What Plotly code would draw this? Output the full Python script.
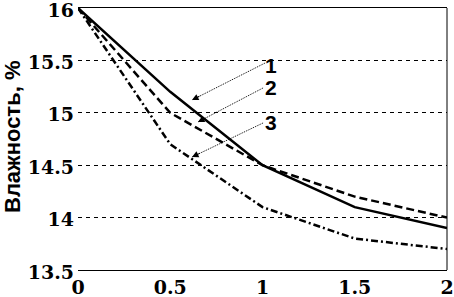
import plotly.graph_objects as go

# Data
x_vals = [0, 0.5, 1, 1.5, 2]
curve1 = [16.0, 15.2, 14.5, 14.1, 13.9]
curve2 = [16.0, 15.0, 14.5, 14.2, 14.0]
curve3 = [16.0, 14.7, 14.1, 13.8, 13.7]

x_ticks = [0, 0.5, 1, 1.5, 2]
x_tick_labels = ["0", "0.5", "1", "1.5", "2"]
y_ticks = [13.5, 14, 14.5, 15, 15.5, 16]
y_tick_labels = ["13.5", "14", "14.5", "15", "15.5", "16"]

y_title = "Влажность, %"
curve_labels = ["1", "2", "3"]
label_pos = [(1.046, 15.45), (1.046, 15.24), (1.046, 14.91)]
arrow_tail = [(1.014, 15.475), (1.003, 15.237), (1.003, 14.903)]
arrow_head = [(0.618, 15.122), (0.650, 14.912), (0.618, 14.578)]

SERIF = "DejaVu Serif"
SANS = "Liberation Sans, Arial, sans-serif"

fig = go.Figure()
styles = [
    dict(color="black", width=2.5, dash="solid"),
    dict(color="black", width=2.5, dash="8px,4px"),
    dict(color="black", width=2.5, dash="7px,3px,2px,3px"),
]
for ys, st in zip([curve1, curve2, curve3], styles):
    fig.add_trace(go.Scatter(x=x_vals, y=ys, mode="lines", line=st,
                             showlegend=False, hoverinfo="skip"))

shapes = [
    dict(type="line", xref="x domain", yref="y domain", x0=1, x1=1, y0=0, y1=1,
         line=dict(color="black", width=1)),
]
annotations = []
for (tx, ty), (hx, hy), lab, (lx, ly) in zip(arrow_tail, arrow_head, curve_labels, label_pos):
    shapes.append(dict(type="line", xref="x", yref="y", x0=tx, y0=ty, x1=hx, y1=hy,
                       line=dict(color="black", width=1, dash="1px,1px")))
    dx = (tx - hx) * 184.5
    dy = -(ty - hy) * 104.8
    L = (dx ** 2 + dy ** 2) ** 0.5
    annotations.append(dict(x=hx, y=hy, xref="x", yref="y", text="",
                            showarrow=True, arrowhead=2, arrowsize=1.3, arrowwidth=1,
                            arrowcolor="black",
                            ax=dx / L * 10, ay=dy / L * 10))
    annotations.append(dict(x=lx, y=ly, xref="x", yref="y", text=lab,
                            showarrow=False, xanchor="center", yanchor="middle",
                            font=dict(family=SANS, size=21, color="black", weight="bold")))

annotations.append(dict(x=0, y=0.5, xref="paper", yref="paper", text=y_title,
                        textangle=-90, showarrow=False, xanchor="center", yanchor="middle",
                        xshift=-66, yshift=2,
                        font=dict(family=SANS, size=22, color="black", weight="bold")))

fig.update_layout(
    width=454, height=297,
    margin=dict(l=78, r=7, t=8, b=27, autoexpand=False),
    paper_bgcolor="white", plot_bgcolor="white",
    shapes=shapes, annotations=annotations,
    xaxis=dict(range=[0, 2], tickvals=x_ticks, ticktext=x_tick_labels,
               showgrid=False, zeroline=False, showline=True, mirror=True,
               linecolor="black", linewidth=1, ticks="", ticklabelstandoff=0,
               ticklabeloverflow="allow", automargin=False,
               tickfont=dict(family=SERIF, size=19, color="black", weight="bold")),
    yaxis=dict(range=[13.5, 16], tickvals=y_ticks, ticktext=y_tick_labels,
               showgrid=True, gridcolor="black", gridwidth=1, griddash="4px,4px",
               zeroline=False, showline=False, ticks="", ticklabelstandoff=3,
               ticklabelshift=2,
               ticklabeloverflow="allow", automargin=False,
               tickfont=dict(family=SERIF, size=19, color="black", weight="bold")),
)

fig.write_html("out.html", config={"displayModeBar": False},
               post_script="document.body.style.margin='0';document.body.style.overflow='hidden';")
